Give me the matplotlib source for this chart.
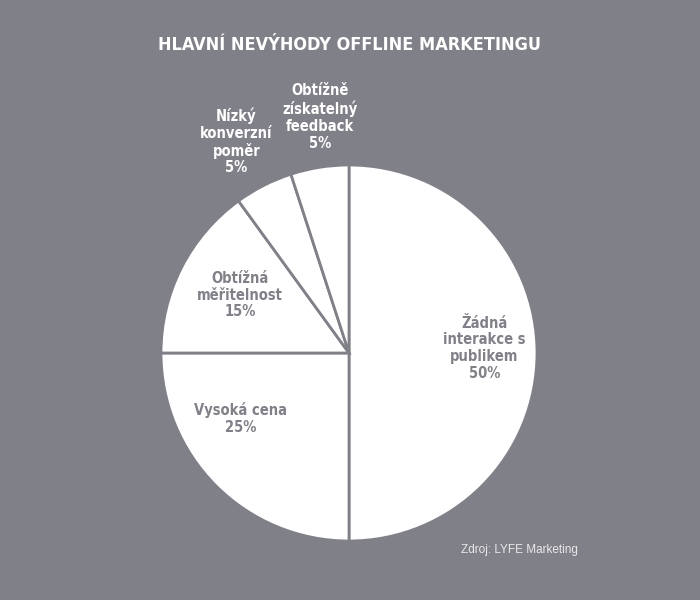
import matplotlib.pyplot as plt
import numpy as np

labels = ["Žádná\ninterakce s\npublikem", "Vysoká cena", "Obtížná\nměřitelnost",
          "Nízký\nkonverzní\npoměr", "Obtížně\nzískatelný\nfeedback"]
shares = [50, 25, 15, 5, 5]

bg = "#808088"
# label placement: distance from centre (in radii) and angle in degrees
label_r = [0.72, 0.675, 0.655, 1.275, 1.265]
label_ang = [2, 211, 152, 118, 97]

fig = plt.figure(figsize=(7, 6), dpi=100, facecolor=bg)
cx, cy, rad = 349, 353, 188
ax = fig.add_axes([(cx - rad) / 700, (600 - cy - rad) / 600, 2 * rad / 700, 2 * rad / 600])
ax.set_facecolor(bg)

ax.pie(shares, startangle=90, counterclock=False, radius=1,
       colors=["white"] * len(shares),
       wedgeprops=dict(edgecolor=bg, linewidth=2))

for lab, val, r, a in zip(labels, shares, label_r, label_ang):
    t = np.deg2rad(a)
    ax.text(r * np.cos(t), r * np.sin(t), f"{lab}\n{val}%", ha="center", va="center",
            fontsize=10.5, fontweight="bold", color="white" if r > 1 else bg,
            linespacing=1.15, family="DejaVu Sans", fontstretch="condensed", clip_on=False)

ax.set_xlim(-1, 1)
ax.set_ylim(-1, 1)
ax.set_aspect("equal")
ax.axis("off")

fig.text(350 / 700, 1 - 45 / 600, "HLAVNÍ NEVÝHODY OFFLINE MARKETINGU", ha="center", va="center",
         fontsize=13, fontweight="bold", color="white",
         family="DejaVu Sans", fontstretch="condensed")
fig.text(578 / 700, 1 - 550 / 600, "Zdroj: LYFE Marketing", ha="right", va="center",
         fontsize=8.5, color="#e8e8e8", family=["Liberation Sans", "DejaVu Sans"])

plt.savefig("out.png", dpi=100, facecolor=bg)
plt.close()
